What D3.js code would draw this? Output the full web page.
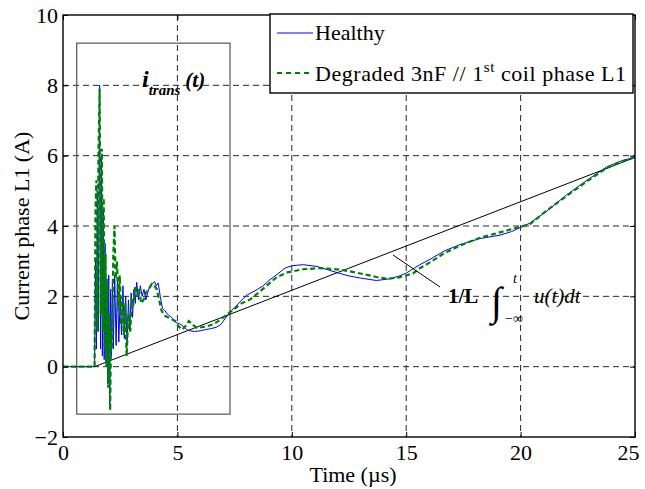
<!DOCTYPE html>
<html><head><meta charset="utf-8">
<script src="https://cdn.jsdelivr.net/npm/d3@7"></script>
<style>body{margin:0;background:#fff}svg{display:block}text{font-family:"Liberation Serif","Times New Roman",serif}</style>
</head><body>
<svg id="c" width="645" height="489"></svg>
<script>
const xTicks=[0,5,10,15,20,25];
const yTicks=[-2,0,2,4,6,8,10];
const seriesNames=["Healthy","Degraded 3nF // 1st coil phase L1"];
const healthy=[[0,0],[1.38,0],[1.42,3.0],[1.46,0.5],[1.50,5.0],[1.54,1.0],[1.60,8.0],[1.64,0.5],[1.68,6.0],[1.72,0.3],[1.76,4.5],[1.80,0.2],[1.84,3.5],[1.88,0.1],[1.92,2.5],[1.96,-0.5],[2.00,2.6],[2.04,-1.1],[2.08,2.2],[2.12,0.3],[2.16,2.4],[2.20,0.5],[2.26,2.6],[2.32,0.6],[2.38,2.4],[2.44,0.7],[2.50,2.0],[2.56,0.9],[2.62,2.3],[2.68,0.8],[2.74,2.0],[2.80,0.6],[2.86,1.9],[2.92,1.0],[2.98,2.1],[3.04,1.4],[3.10,2.2],[3.16,1.8],[3.22,2.4],[3.30,1.9],[3.38,2.3],[3.46,2.0],[3.54,2.2],[3.62,1.9],[3.70,2.1],[3.80,2.3],[3.90,2.35],[4.00,2.42],[4.08,2.3],[4.16,2.38],[4.25,2.0],[4.35,1.65],[4.45,1.6],[4.55,1.5],[4.65,1.45],[4.75,1.4],[4.85,1.3],[4.95,1.25],[5.10,1.22],[5.25,1.15],[5.40,1.05],[5.55,1.02],[5.75,1.0],[6.0,1.02],[6.2,1.05],[6.45,1.08],[6.7,1.12],[6.9,1.2],[7.1,1.38],[7.3,1.55],[7.6,1.75],[8.0,2.02],[8.5,2.2],[8.75,2.3],[9.0,2.45],[9.35,2.62],[9.7,2.8],[10.0,2.87],[10.5,2.9],[11.1,2.85],[11.6,2.75],[12.0,2.67],[12.5,2.58],[13.0,2.52],[13.7,2.45],[14.3,2.5],[14.7,2.58],[15.0,2.66],[15.6,2.9],[16.0,3.04],[16.7,3.3],[17.35,3.47],[18.2,3.64],[19.1,3.74],[19.6,3.84],[20.0,3.96],[20.4,4.08],[21.1,4.4],[22.0,4.88],[22.9,5.3],[23.76,5.68],[24.35,5.84],[25,5.96]];
const degraded=[[0,0],[1.38,0],[1.42,4.5],[1.46,5.3],[1.50,1.0],[1.55,6.0],[1.60,7.9],[1.65,1.5],[1.70,6.2],[1.74,1.0],[1.78,4.8],[1.82,0.5],[1.86,3.2],[1.90,0.0],[1.94,2.4],[1.98,-0.6],[2.02,1.5],[2.06,-1.25],[2.10,1.0],[2.14,0.5],[2.20,3.2],[2.25,4.0],[2.30,2.5],[2.36,3.0],[2.42,1.6],[2.48,2.6],[2.54,1.2],[2.60,2.0],[2.66,0.9],[2.72,1.8],[2.78,0.3],[2.86,1.5],[2.94,1.0],[3.00,1.9],[3.08,1.8],[3.16,2.3],[3.24,2.0],[3.32,2.2],[3.42,1.8],[3.52,1.9],[3.62,2.1],[3.75,2.2],[3.88,2.35],[4.0,2.3],[4.1,2.2],[4.2,1.9],[4.3,1.6],[4.45,1.45],[4.6,1.4],[4.75,1.35],[4.9,1.3],[5.05,1.15],[5.2,1.05],[5.35,1.15],[5.5,1.3],[5.65,1.2],[5.85,1.1],[6.05,1.12],[6.3,1.15],[6.55,1.2],[6.8,1.3],[7.05,1.42],[7.3,1.55],[7.8,1.8],[8.2,1.92],[8.5,2.08],[8.9,2.3],[9.35,2.55],[9.8,2.68],[10.5,2.77],[11.2,2.8],[11.8,2.78],[12.3,2.74],[13.0,2.65],[13.7,2.55],[14.2,2.5],[14.7,2.54],[15.3,2.65],[15.6,2.8],[16.0,2.95],[16.6,3.2],[17.3,3.43],[18.2,3.66],[19.1,3.82],[20.0,3.98],[20.4,4.05],[21.1,4.42],[22.0,4.85],[22.9,5.27],[23.76,5.65],[24.35,5.82],[25,5.96]];
const integralLine=[[1.38,0],[25,5.95]];
const transBox=[[0.6,-1.35],[7.3,9.2]];

const W=645,H=489,m={l:63,r:10,t:15,b:52};
const svg=d3.select("#c");
const x=d3.scaleLinear().domain([0,25]).range([m.l,W-m.r]);
const y=d3.scaleLinear().domain([-2,10]).range([H-m.b,m.t]);
const gridDash="6,4";
// grid
svg.append("g").selectAll("line").data(xTicks.filter(v=>v>0&&v<25)).join("line")
 .attr("x1",d=>x(d)).attr("x2",d=>x(d)).attr("y1",y(10)).attr("y2",y(-2))
 .attr("stroke","#262626").attr("stroke-width",1).attr("stroke-dasharray",gridDash);
svg.append("g").selectAll("line").data(yTicks.filter(v=>v>-2&&v<10)).join("line")
 .attr("x1",x(0)).attr("x2",x(25)).attr("y1",d=>y(d)).attr("y2",d=>y(d))
 .attr("stroke","#262626").attr("stroke-width",1).attr("stroke-dasharray",gridDash);
// transient box
svg.append("rect").attr("x",x(transBox[0][0])).attr("y",y(transBox[1][1]))
 .attr("width",x(transBox[1][0])-x(transBox[0][0])).attr("height",y(transBox[0][1])-y(transBox[1][1]))
 .attr("fill","none").attr("stroke","#555").attr("stroke-width",1.2);
const line=d3.line().x(d=>x(d[0])).y(d=>y(d[1]));
svg.append("path").datum(integralLine).attr("d",line).attr("fill","none").attr("stroke","#000").attr("stroke-width",1);
svg.append("path").datum(healthy).attr("d",line).attr("fill","none").attr("stroke","#0000ff").attr("stroke-width",1);
svg.append("path").datum(degraded).attr("d",line).attr("fill","none").attr("stroke","#008000").attr("stroke-width",2.2).attr("stroke-dasharray","5,3");
// axes frame
svg.append("rect").attr("x",x(0)).attr("y",y(10)).attr("width",x(25)-x(0)).attr("height",y(-2)-y(10))
 .attr("fill","none").attr("stroke","#000").attr("stroke-width",1.4);
const xb=svg.append("g").attr("transform",`translate(0,${y(-2)})`).call(d3.axisBottom(x).tickValues(xTicks).tickSize(-5).tickPadding(7));
const xt=svg.append("g").attr("transform",`translate(0,${y(10)})`).call(d3.axisTop(x).tickValues(xTicks).tickSize(-5).tickFormat(""));
const yl=svg.append("g").attr("transform",`translate(${x(0)},0)`).call(d3.axisLeft(y).tickValues(yTicks).tickSize(-5).tickPadding(5).tickFormat(d=>d<0?"\u2212"+(-d):d));
const yr=svg.append("g").attr("transform",`translate(${x(25)},0)`).call(d3.axisRight(y).tickValues(yTicks).tickSize(-5).tickFormat(""));
[xb,xt,yl,yr].forEach(g=>{g.select(".domain").remove();g.selectAll("text").attr("font-family","Liberation Serif").attr("font-size",22).attr("fill","#000");});
xb.selectAll("text").attr("dy","0.72em");
xb.selectAll("text").filter(d=>d===25).attr("text-anchor","end").attr("x",4);
// axis labels
svg.append("text").attr("x",353).attr("y",482).attr("text-anchor","middle").attr("font-size",22).text("Time (\u00b5s)");
svg.append("text").attr("transform",`translate(29,${(y(-2)+y(10))/2}) rotate(-90)`).attr("text-anchor","middle").attr("font-size",22).text("Current phase L1 (A)");
// legend
const lg=svg.append("g");
lg.append("rect").attr("x",270).attr("y",y(10)-1).attr("width",633-270).attr("height",79).attr("fill","#fff").attr("stroke","#000").attr("stroke-width",1.4);
lg.append("line").attr("x1",277).attr("x2",313).attr("y1",33).attr("y2",33).attr("stroke","#0000ff").attr("stroke-width",1);
lg.append("line").attr("x1",277).attr("x2",313).attr("y1",73).attr("y2",73).attr("stroke","#008000").attr("stroke-width",2.2).attr("stroke-dasharray","5,4");
lg.append("text").attr("x",315).attr("y",40).attr("font-size",22).text(seriesNames[0]);
const t2=lg.append("text").attr("x",315).attr("y",81).attr("font-size",22).attr("textLength",311).attr("lengthAdjust","spacing");
t2.append("tspan").text("Degraded 3nF // 1");
t2.append("tspan").attr("dy",-9).attr("font-size",15).text("st");
t2.append("tspan").attr("dy",9).text(" coil phase L1");
// i_trans label
const it=svg.append("text").attr("x",142).attr("y",87).attr("font-weight","bold").attr("font-style","italic").attr("font-size",24);
it.append("tspan").text("i");
it.append("tspan").attr("dy",8).attr("font-size",15).text("trans");
it.append("tspan").attr("dy",-8).attr("dx",5).attr("font-size",21).text("(t)");
// integral annotation
svg.append("line").attr("x1",393).attr("y1",255).attr("x2",440).attr("y2",287).attr("stroke","#000").attr("stroke-width",1);
svg.append("text").attr("x",448).attr("y",303).attr("font-size",21).attr("font-weight","bold").text("1/L");
svg.append("text").attr("x",491).attr("y",315).attr("font-size",40).attr("font-family","DejaVu Serif").text("\u222b");
svg.append("text").attr("x",513).attr("y",283).attr("font-size",14).attr("font-style","italic").text("t");
svg.append("text").attr("x",505).attr("y",323).attr("font-size",14).text("\u2212\u221e");
svg.append("text").attr("x",534).attr("y",303).attr("font-size",21).attr("font-style","italic").text("u(t)dt");
</script>
</body></html>
